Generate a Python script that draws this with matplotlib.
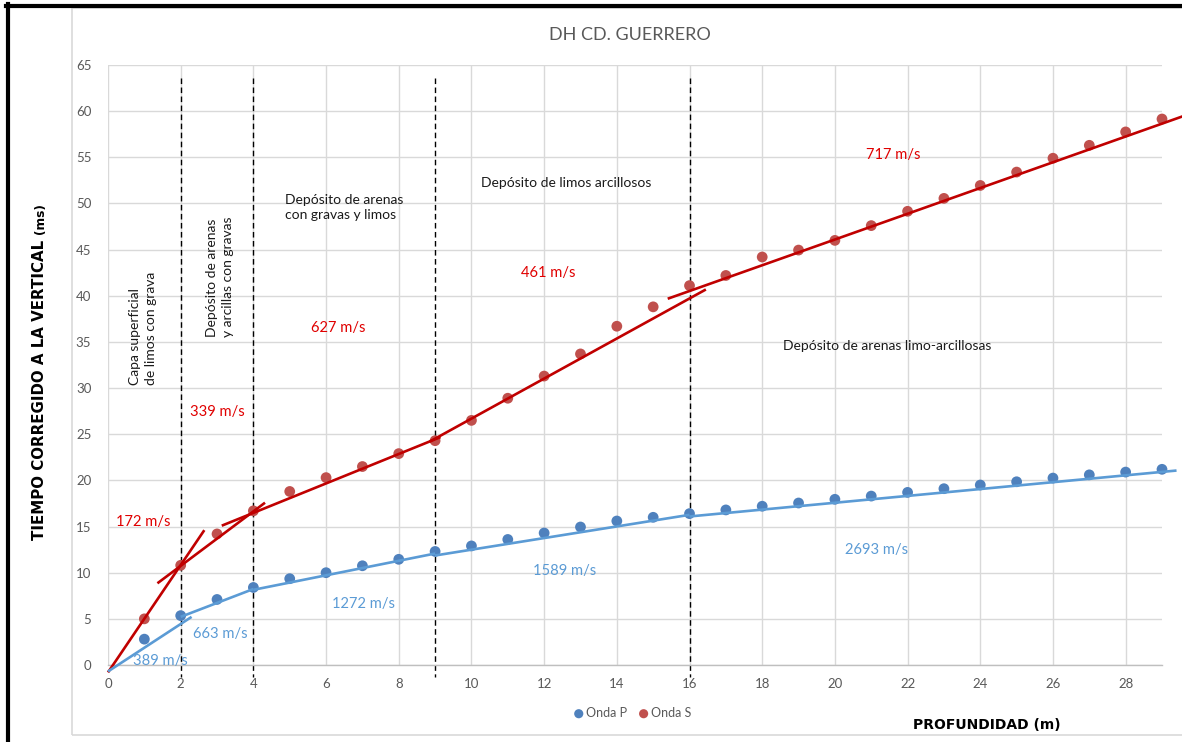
import numpy as np
import matplotlib
matplotlib.use("Agg")
import matplotlib.pyplot as plt
from matplotlib.lines import Line2D
from matplotlib.patches import Rectangle

# ---------------- data ----------------
depth = list(range(1, 30))
onda_p = [2.8, 5.35, 7.1, 8.4, 9.35, 10.0, 10.75, 11.45, 12.3, 12.9,
          13.6, 14.3, 14.95, 15.6, 16.0, 16.4, 16.8, 17.2, 17.55, 17.95,
          18.3, 18.7, 19.1, 19.5, 19.85, 20.25, 20.6, 20.9, 21.2]
onda_s = [5.0, 10.8, 14.2, 16.7, 18.8, 20.3, 21.5, 22.9, 24.3, 26.5,
          28.9, 31.3, 33.7, 36.7, 38.8, 41.1, 42.2, 44.2, 44.95, 46.0,
          47.6, 49.15, 50.55, 51.95, 53.4, 54.9, 56.3, 57.75, 59.15]

# layer boundaries (m)
boundaries = [2, 4, 9, 16]

# straight-line fits per layer: velocity (m/s), intercept (ms), depth range (m)
s_vel = [172, 339, 627, 461, 717]
s_b = [-0.8, 4.84, 10.1, 5.0, 18.2]
s_x0 = [0.0, 1.36, 3.13, 8.85, 15.4]
s_x1 = [2.65, 4.32, 9.15, 16.45, 29.6]

p_vel = [389, 663, 1272, 1589, 2693]
p_b = [-0.7, 2.2, 5.0, 6.2, 10.15]
p_x0 = [0.0, 2.0, 4.0, 9.0, 16.0]
p_x1 = [2.3, 4.0, 9.0, 16.0, 29.4]

layers = ["Capa superficial\nde limos con grava",
          "Depósito de arenas\ny arcillas con gravas",
          "Depósito de arenas\ncon gravas y limos",
          "Depósito de limos arcillosos",
          "Depósito de arenas limo-arcillosas"]

x_ticks = list(range(0, 30, 2))
y_ticks = list(range(0, 70, 5))

# ---------------- style ----------------
FONT = ["Lato", "DejaVu Sans"]
plt.rcParams["font.family"] = FONT
GRID = "#D9D9D9"
TICK = "#595959"
P_PT = "#4F81BD"
S_PT = "#C0504D"
P_LN = "#5B9BD5"
S_LN = "#C00000"
S_TX = "#E00000"

W, H = 1182, 742
fig = plt.figure(figsize=(W / 100, H / 100), dpi=100)
fig.patch.set_facecolor("white")

# frame around the chart
fig.add_artist(Rectangle((72 / W, 1 - 735 / H), 1.2, (735 - 8) / H,
                         transform=fig.transFigure, fill=False,
                         edgecolor="#D9D9D9", lw=1.2))
fig.add_artist(Line2D([7.5 / W, 7.5 / W], [0, 1 - 4 / H],
                      transform=fig.transFigure, color="black", lw=3))
fig.add_artist(Line2D([6 / W, 1], [1 - 5.5 / H, 1 - 5.5 / H],
                      transform=fig.transFigure, color="black", lw=3))

L, R, T, B = 108, 1162, 65, 665
ax = fig.add_axes([L / W, 1 - B / H, (R - L) / W, (B - T) / H])
ax.set_xlim(0, 29)
ax.set_ylim(0, 65)
ax.set_xticks(x_ticks)
ax.set_yticks(y_ticks)
ax.grid(True, color=GRID, lw=1)
ax.set_axisbelow(True)
for side in ["left", "right", "top"]:
    ax.spines[side].set_visible(False)
ax.spines["bottom"].set_color("#BFBFBF")
ax.spines["bottom"].set_linewidth(1)
ax.tick_params(length=0, labelsize=9.5, labelcolor=TICK, pad=9)
ax.tick_params(axis="y", pad=12)

# layer boundaries
for xb in boundaries:
    ax.plot([xb, xb], [63.6, -1.3], color="black", lw=1,
            dashes=(4, 2.5), clip_on=False, zorder=2)

# measured points
ax.scatter(depth, onda_p, s=60, color=P_PT, zorder=3, label="Onda P",
           edgecolors="none", clip_on=False)
ax.scatter(depth, onda_s, s=60, color=S_PT, zorder=3, label="Onda S",
           edgecolors="none", clip_on=False)

# fitted segments: slope in ms/m = 1000 / velocity
for v, b, x0, x1 in zip(s_vel, s_b, s_x0, s_x1):
    xs = np.array([x0, x1])
    ax.plot(xs, b + 1000.0 / v * xs, color=S_LN, lw=1.9, zorder=4,
            clip_on=False, solid_capstyle="butt")
for v, b, x0, x1 in zip(p_vel, p_b, p_x0, p_x1):
    xs = np.array([x0, x1])
    ax.plot(xs, b + 1000.0 / v * xs, color=P_LN, lw=1.9, zorder=4,
            clip_on=False, solid_capstyle="butt")

# velocity labels
s_lab_xy = [(0.96, 15.5), (3.0, 27.4), (6.33, 36.5), (12.1, 42.5), (21.6, 55.25)]
p_lab_xy = [(1.43, 0.45), (3.08, 3.36), (7.02, 6.6), (12.55, 10.2), (21.16, 12.46)]
for v, (x, y) in zip(s_vel, s_lab_xy):
    ax.text(x, y, f"{v} m/s", color=S_TX, fontsize=10.6, ha="center",
            va="center", zorder=5)
for v, (x, y) in zip(p_vel, p_lab_xy):
    ax.text(x, y, f"{v} m/s", color=P_LN, fontsize=10.6, ha="center",
            va="center", zorder=5)

# layer descriptions
TXT = "#1A1A1A"
ax.text(0.96, 30.3, layers[0], rotation=90, ha="center", va="bottom",
        multialignment="left", fontsize=10, color=TXT, linespacing=1.4)
ax.text(3.08, 35.5, layers[1], rotation=90, ha="center", va="bottom",
        multialignment="left", fontsize=10, color=TXT, linespacing=1.4)
ax.text(4.87, 49.6, layers[2], ha="left", va="center", fontsize=10,
        color=TXT, linespacing=1.3)
ax.text(10.26, 52.2, layers[3], ha="left", va="center", fontsize=10,
        color=TXT)
ax.text(18.57, 34.56, layers[4], ha="left", va="center", fontsize=10,
        color=TXT)

# titles
fig.text(630 / W, 1 - 35 / H, "DH CD. GUERRERO", ha="center", va="center",
         fontsize=13, color=TICK)
fig.text(987 / W, 1 - 725 / H, "PROFUNDIDAD (m)", ha="center", va="center",
         fontsize=10, fontweight="bold", family="DejaVu Sans", color="black")
fig.text(40 / W, 1 - 390 / H, "TIEMPO CORREGIDO A LA VERTICAL", rotation=90,
         ha="center", va="center", fontsize=10.8, fontweight="bold",
         family="DejaVu Sans", color="black")
fig.text(40 / W, 1 - 219 / H, "(ms)", rotation=90, ha="center", va="center",
         fontsize=8.8, fontweight="bold", family="DejaVu Sans", color="black")

# legend
leg = fig.legend(loc="center", bbox_to_anchor=(632 / W, 1 - 713 / H),
                 ncol=2, frameon=False, fontsize=9, handletextpad=0.1,
                 columnspacing=0.8, markerscale=0.85, handlelength=1.0)
for t in leg.get_texts():
    t.set_color(TICK)

fig.savefig("out.png", dpi=100)
